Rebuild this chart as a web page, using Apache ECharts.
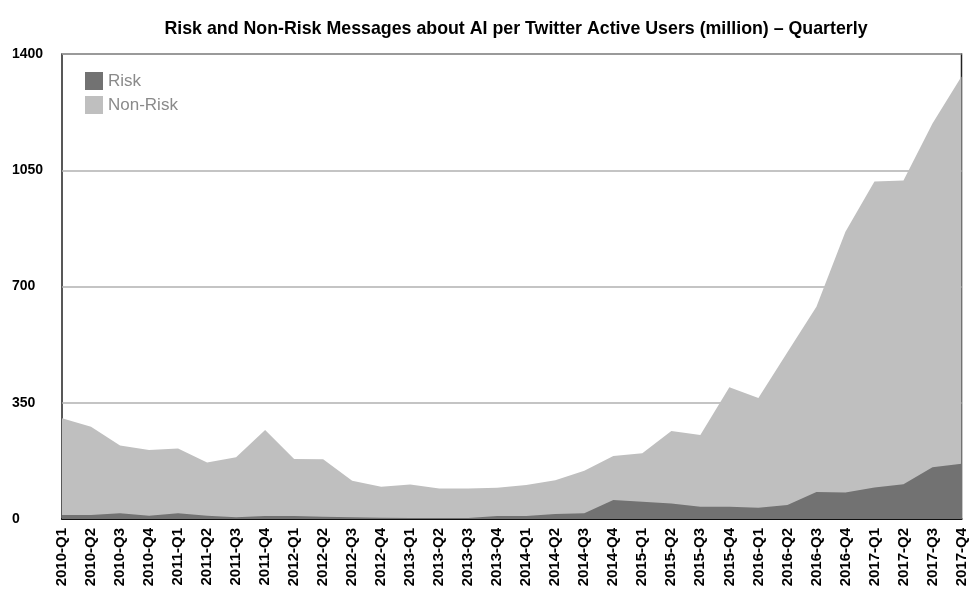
<!DOCTYPE html>
<html>
<head>
<meta charset="utf-8">
<script src="https://cdn.jsdelivr.net/npm/echarts@6/dist/echarts.min.js"></script>
<style>html,body{margin:0;padding:0;background:#fff}#c{width:969px;height:590px}</style>
</head>
<body>
<div id="c"></div>
<script>
const categories = ["2010-Q1","2010-Q2","2010-Q3","2010-Q4","2011-Q1","2011-Q2","2011-Q3","2011-Q4",
"2012-Q1","2012-Q2","2012-Q3","2012-Q4","2013-Q1","2013-Q2","2013-Q3","2013-Q4",
"2014-Q1","2014-Q2","2014-Q3","2014-Q4","2015-Q1","2015-Q2","2015-Q3","2015-Q4",
"2016-Q1","2016-Q2","2016-Q3","2016-Q4","2017-Q1","2017-Q2","2017-Q3","2017-Q4"];
const riskValues = [12,12,17,10,17,10,5,9,9,7,5,4,3,3,3,9,
9,15,17,57,52,47,37,37,34,42,81,80,95,105,156,166];
const nonRiskValues = [303,278,221,208,212,170,186,268,181,180,115,97,104,92,92,94,
102,117,145,190,198,265,253,397,364,502,639,865,1016,1019,1191,1332];
const yTicks = [0,350,700,1050,1400];

const FONT = 'Liberation Sans, Arial, Helvetica, sans-serif';
const chart = echarts.init(document.getElementById('c'), null, {renderer:'canvas'});
chart.setOption({
  animation:false,
  backgroundColor:'#fff',
  title:{
    text:'Risk and Non-Risk Messages about AI per Twitter Active Users (million) \u2013 Quarterly',
    left:511, textAlign:'center', top:15,
    textStyle:{fontFamily:FONT, fontWeight:'bold', fontSize:17.8, color:'#000'}
  },
  legend:{
    left:80, top:67, orient:'vertical', itemWidth:18, itemHeight:18, itemGap:6, itemTextGap:14,
    icon:'rect',
    data:['Risk','Non-Risk'],
    textStyle:{fontFamily:FONT, fontSize:17, color:'#8a8a8a'}
  },
  grid:{left:62, right:7, top:54, bottom:71, show:true, borderColor:'#222', borderWidth:1.5},
  xAxis:{
    type:'category', data:categories, boundaryGap:false,
    axisLine:{lineStyle:{color:'#111', width:2}},
    axisTick:{show:false},
    axisLabel:{rotate:90, interval:0, margin:9, color:'#000', fontWeight:'bold', fontSize:15,
      fontFamily:FONT},
    splitLine:{show:false}
  },
  yAxis:{
    type:'value', min:yTicks[0], max:yTicks[yTicks.length-1], interval:350,
    axisLine:{show:false}, axisTick:{show:false},
    axisLabel:{align:'left', margin:50, color:'#000', fontWeight:'bold', fontSize:14,
      fontFamily:FONT, formatter:function(v){return String(v);}},
    splitLine:{lineStyle:{color:'#b0b0b0', width:1.5}}
  },
  series:[
    {name:'Risk', type:'line', data:riskValues, showSymbol:false, z:4,
      lineStyle:{width:0}, itemStyle:{color:'#727272'}, areaStyle:{color:'#727272', opacity:1}},
    {name:'Non-Risk', type:'line', data:nonRiskValues, showSymbol:false, z:3,
      lineStyle:{width:0}, itemStyle:{color:'#bfbfbf'}, areaStyle:{color:'#bfbfbf', opacity:1}}
  ]
});
</script>
</body>
</html>
